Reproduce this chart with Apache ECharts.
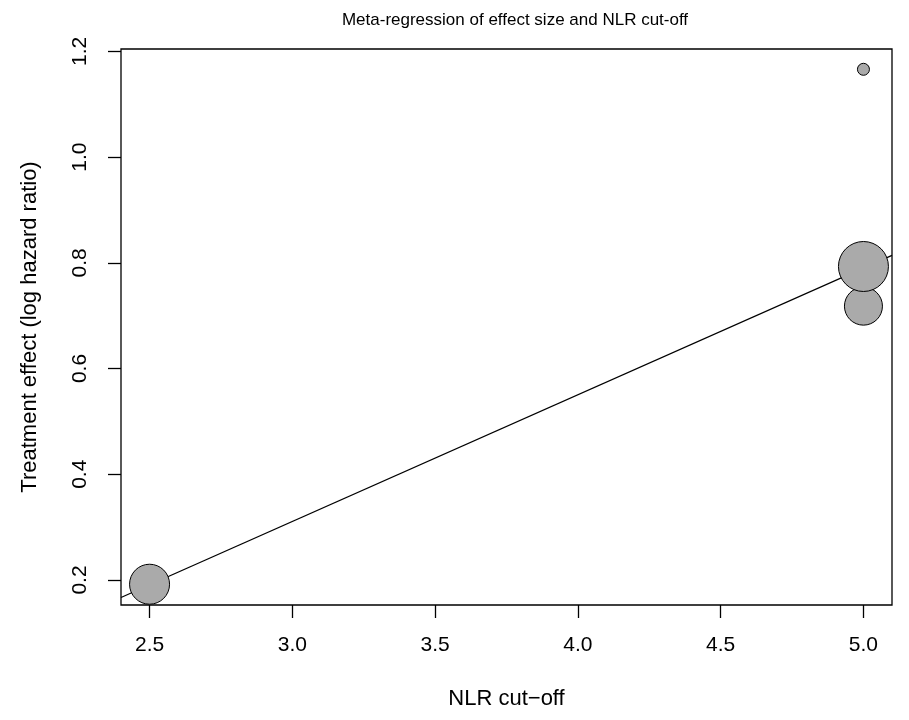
<!DOCTYPE html>
<html>
<head>
<meta charset="utf-8">
<script src="https://cdn.jsdelivr.net/npm/echarts@6/dist/echarts.min.js"></script>
<style>html,body{margin:0;padding:0;background:#fff}#c{width:909px;height:720px}</style>
</head>
<body>
<div id="c"></div>
<script>
// Study-level data (NLR cut-off, log hazard ratio, relative study weight)
var nlrCutoff = [5.0, 2.5, 5.0, 5.0];
var logHR = [1.166, 0.192, 0.718, 0.793];
var studyWeight = [12, 40, 38, 50];
// Fitted meta-regression line endpoints
var fitX = [2.4, 5.1];
var fitY = [0.167, 0.814];
// Axis ticks
var xTicks = [2.5, 3.0, 3.5, 4.0, 4.5, 5.0];
var yTicks = [0.2, 0.4, 0.6, 0.8, 1.0, 1.2];

var pts = nlrCutoff.map(function (x, i) { return [x, logHR[i], studyWeight[i]]; });
var fit = fitX.map(function (x, i) { return [x, fitY[i]]; });

var font = 'Liberation Sans, Arial, Helvetica, sans-serif';
var chart = echarts.init(document.getElementById('c'), null, { renderer: 'canvas' });
chart.setOption({
  animation: false,
  backgroundColor: '#ffffff',
  title: {
    text: 'Meta-regression of effect size and NLR cut-off',
    left: 510, top: 7, textAlign: 'center',
    textStyle: { fontFamily: font, fontSize: 17, fontWeight: 'normal', color: '#000' }
  },
  grid: {
    left: 121, top: 49, right: 17, bottom: 115,
    show: true, borderColor: '#000', borderWidth: 1.3, backgroundColor: 'transparent'
  },
  xAxis: {
    type: 'value', min: 2.4, max: 5.1,
    name: 'NLR cut\u2212off', nameLocation: 'middle', nameGap: 83,
    nameTextStyle: { fontFamily: font, fontSize: 22, color: '#000' },
    axisLine: { show: false },
    axisTick: { show: true, length: 13, lineStyle: { color: '#000', width: 1.3 },
      customValues: xTicks },
    axisLabel: { fontFamily: font, fontSize: 21, color: '#000', margin: 30,
      customValues: xTicks,
      formatter: function (v) { return v.toFixed(1); } },
    splitLine: { show: false }
  },
  yAxis: {
    type: 'value', min: 0.1527, max: 1.2044,
    name: 'Treatment effect (log hazard ratio)', nameLocation: 'middle', nameGap: 80,
    nameTextStyle: { fontFamily: font, fontSize: 22, color: '#000' },
    axisLine: { show: false },
    axisTick: { show: true, length: 13, lineStyle: { color: '#000', width: 1.3 },
      customValues: yTicks },
    axisLabel: { fontFamily: font, fontSize: 21, color: '#000', margin: 30, rotate: 90,
      customValues: yTicks,
      formatter: function (v) { return v.toFixed(1); } },
    splitLine: { show: false }
  },
  series: [
    {
      type: 'line', data: fit, symbol: 'none', silent: true, z: 2,
      lineStyle: { color: '#000', width: 1.2 }
    },
    {
      type: 'scatter', data: pts, z: 3,
      symbolSize: function (d) { return d[2]; },
      itemStyle: { color: '#aaaaaa', borderColor: '#000', borderWidth: 1, opacity: 1 }
    }
  ]
});
</script>
</body>
</html>
